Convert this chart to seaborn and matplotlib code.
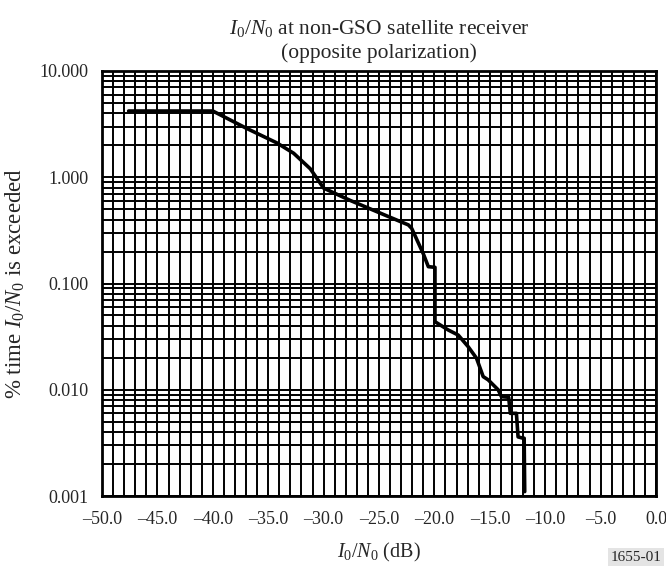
import numpy as np
import pandas as pd
import matplotlib
matplotlib.use("Agg")
import matplotlib.pyplot as plt
import seaborn as sns
from matplotlib.ticker import MultipleLocator, FixedLocator, FuncFormatter, LogLocator, NullFormatter

# Data
io_no_db = [-47.6, -40.0, -37.0, -34.2, -32.7, -31.2, -30.0, -27.6, -24.0, -22.35, -22.05,
            -21.0, -20.55, -19.95, -19.95, -18.75, -17.85, -16.95, -16.2, -15.6, -15.15,
            -14.25, -13.95, -13.3, -13.15, -12.6, -12.45, -12.0, -11.9, -11.85]
pct_time = [4.2, 4.2, 2.9, 2.1, 1.68, 1.2, 0.79, 0.605, 0.42, 0.356, 0.33,
            0.19, 0.144, 0.142, 0.0437, 0.0365, 0.0327, 0.0254, 0.0198, 0.0133, 0.0124,
            0.0100, 0.0086, 0.0085, 0.0060, 0.0060, 0.0036, 0.0035, 0.0035, 0.0011]
x_ticks = [-50.0, -45.0, -40.0, -35.0, -30.0, -25.0, -20.0, -15.0, -10.0, -5.0, 0.0]
y_ticks = [0.001, 0.01, 0.1, 1.0, 10.0]

df = pd.DataFrame({"x": io_no_db, "y": pct_time})

sns.set_style("white")
plt.rcParams["font.family"] = ["Liberation Serif", "DejaVu Serif"]
plt.rcParams["mathtext.fontset"] = "custom"
plt.rcParams["mathtext.rm"] = "Liberation Serif"
plt.rcParams["mathtext.it"] = "Liberation Serif:italic"
plt.rcParams["mathtext.bf"] = "Liberation Serif:bold"

fig = plt.figure(figsize=(6.66, 5.67), dpi=100)
ax = fig.add_axes([0.1532, 0.1252, 0.8318, 0.7496])

ax.set_yscale("log")
ax.set_xlim(-50, 0)
ax.set_ylim(0.001, 10)

sns.lineplot(data=df, x="x", y="y", sort=False, estimator=None, color="black",
             linewidth=2.6, ax=ax, zorder=5)

ax.xaxis.set_major_locator(FixedLocator(x_ticks))
ax.xaxis.set_minor_locator(MultipleLocator(1))
ax.xaxis.set_major_formatter(FuncFormatter(lambda v, p: f"{v:.1f}".replace("-", "\u2013")))
ax.yaxis.set_major_locator(FixedLocator(y_ticks))
ax.yaxis.set_minor_locator(LogLocator(base=10, subs=np.arange(2, 10)))
ax.yaxis.set_major_formatter(FuncFormatter(lambda v, p: f"{v:.3f}"))
ax.yaxis.set_minor_formatter(NullFormatter())

ax.grid(True, which="both", color="black", linewidth=1.4)
ax.tick_params(which="both", length=0, labelsize=13)
ax.tick_params(axis="y", pad=10)
ax.tick_params(axis="x", pad=11)
for s in ax.spines.values():
    s.set_color("black")
    s.set_linewidth(2)

ax.set_title("$I_0/N_0$ at non-GSO satellite receiver\n(opposite polarization)",
             fontsize=15.5, pad=9, linespacing=1.3)
ax.set_xlabel("$I_0/N_0$ (dB)", fontsize=14.5, labelpad=9)
ax.set_ylabel("% time $I_0/N_0$ is exceeded", fontsize=16.5, labelpad=9)

fig.text(0.993, 0.006, "1655-01", ha="right", va="bottom", fontsize=11,
         bbox=dict(facecolor="#e4e4e4", edgecolor="none", pad=2))

fig.savefig("out.png", dpi=100)
